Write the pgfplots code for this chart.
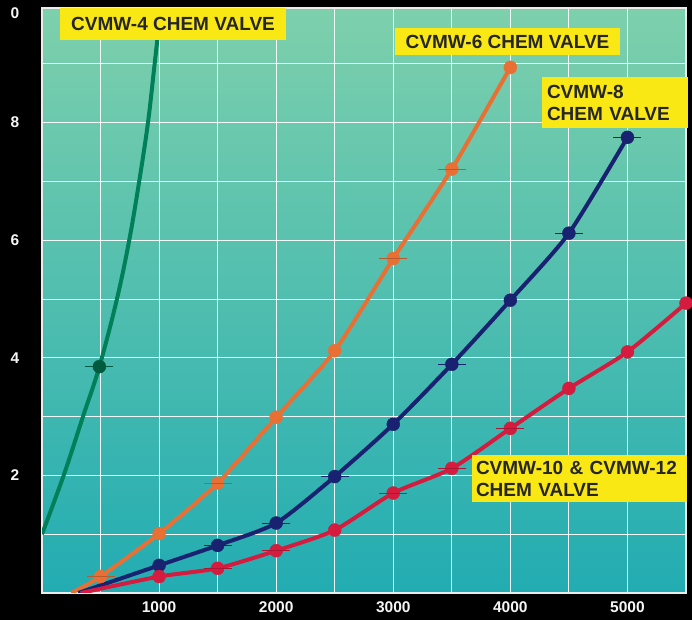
\documentclass[border=0pt]{standalone}
\usepackage{pgfplots}
\pgfplotsset{compat=1.18}
\usepackage{fontspec}
\setmainfont{Liberation Sans}
\definecolor{bgtop}{RGB}{126,208,172}
\definecolor{bgbot}{RGB}{34,172,178}
\definecolor{cgreen}{RGB}{0,128,88}
\definecolor{corange}{RGB}{232,112,52}
\definecolor{cnavy}{RGB}{24,34,112}
\definecolor{cred}{RGB}{214,28,62}
\definecolor{lab}{RGB}{250,232,20}
\begin{document}
\begin{tikzpicture}
\fill[black] (-42pt,-27pt) rectangle (650pt,593pt);
\useasboundingbox (-42pt,-27pt) rectangle (650pt,593pt);
\begin{axis}[
  at={(0pt,0pt)}, anchor=south west,
  scale only axis, width=644pt, height=585pt,
  xmin=0, xmax=5500, ymin=0, ymax=9.95,
  axis background/.style={shade, top color=bgtop, bottom color=bgbot},
  axis line style={white!85!gray, line width=1.2pt},
  grid=major,
  major grid style={white!90!bgtop, line width=0.9pt},
  major tick length=0pt,
  xtick={500,1000,1500,2000,2500,3000,3500,4000,4500,5000},
  xticklabels={,1000,,2000,,3000,,4000,,5000},
  ytick={1,2,3,4,5,6,7,8,9},
  yticklabels={,2,,4,,6,,8,},
  extra y ticks={9.86},
  extra y tick labels={0},
  extra y tick style={grid=none},
  tick label style={font=\fontsize{15.5}{16}\selectfont\bfseries, text=white!92!gray},
  xticklabel style={anchor=center, yshift=-14pt},
  yticklabel style={anchor=center, xshift=-27pt},
  clip=true,
]
% CVMW-4
\addplot[cgreen, line width=4pt, smooth, tension=0.6] coordinates {
 (0,1.0) (185,2.0) (350,3.0) (490,3.85) (640,5.0) (745,6.0) (830,7.0) (905,8.0) (962,9.0) (1012,9.9)};
\addplot[cgreen!70!black, only marks, mark=*, mark size=6.5pt] coordinates {(490,3.85)};
\addplot[cgreen!70!black, only marks, mark=-, mark size=14pt, line width=1pt] coordinates {(490,3.85)};
% CVMW-6
\addplot[corange, line width=4pt, smooth, tension=0.4] coordinates {
 (250,0) (500,0.28) (1000,1.01) (1500,1.87) (2000,2.99) (2500,4.12) (3000,5.69) (3500,7.21) (4000,8.94)};
\addplot[corange, only marks, mark=*, mark size=6.5pt] coordinates {
 (500,0.28) (1000,1.01) (1500,1.87) (2000,2.99) (2500,4.12) (3000,5.69) (3500,7.21) (4000,8.94)};
\addplot[corange!80!black, only marks, mark=-, mark size=14pt, line width=1pt] coordinates {
 (500,0.28) (1500,1.87) (3000,5.69) (3500,7.21)};
% CVMW-8
\addplot[cnavy, line width=4pt, smooth, tension=0.4] coordinates {
 (310,0) (1000,0.47) (1500,0.81) (2000,1.19) (2500,1.98) (3000,2.87) (3500,3.89) (4000,4.98) (4500,6.12) (5000,7.75)};
\addplot[cnavy, only marks, mark=*, mark size=6.5pt] coordinates {
 (1000,0.47) (1500,0.81) (2000,1.19) (2500,1.98) (3000,2.87) (3500,3.89) (4000,4.98) (4500,6.12) (5000,7.75)};
\addplot[cnavy, only marks, mark=-, mark size=14pt, line width=1pt] coordinates {
 (1500,0.81) (2000,1.19) (2500,1.98) (3500,3.89) (4500,6.12) (5000,7.75)};
% CVMW-10 & 12
\addplot[cred, line width=4pt, smooth, tension=0.4] coordinates {
 (330,0) (1000,0.28) (1500,0.42) (2000,0.72) (2500,1.07) (3000,1.70) (3500,2.12) (4000,2.80) (4500,3.48) (5000,4.10) (5500,4.93)};
\addplot[cred, only marks, mark=*, mark size=6.5pt] coordinates {
 (1000,0.28) (1500,0.42) (2000,0.72) (2500,1.07) (3000,1.70) (3500,2.12) (4000,2.80) (4500,3.48) (5000,4.10) (5500,4.93)};
\addplot[cred!80!black, only marks, mark=-, mark size=14pt, line width=1pt] coordinates {
 (1500,0.42) (2000,0.72) (3000,1.70) (3500,2.12) (4000,2.80)};
\end{axis}
\begin{scope}[every node/.style={fill=lab, inner sep=0pt, font=\fontsize{19}{22}\selectfont\bfseries, text=black!85}]
\node[minimum width=226pt, minimum height=32pt] at (131pt,569pt) {CVMW-4 CHEM VALVE};
\node[minimum width=225pt, minimum height=27pt] at (465.5pt,551.5pt) {CVMW-6 CHEM VALVE};
\node[minimum width=146pt, minimum height=51pt, text width=136pt, align=left] at (573pt,490.5pt) {CVMW-8\\CHEM VALVE};
\node[minimum width=215pt, minimum height=47pt, text width=207pt, align=left] at (537.5pt,114.5pt) {CVMW-10 \& CVMW-12\\CHEM VALVE};
\end{scope}
\end{tikzpicture}
\end{document}
